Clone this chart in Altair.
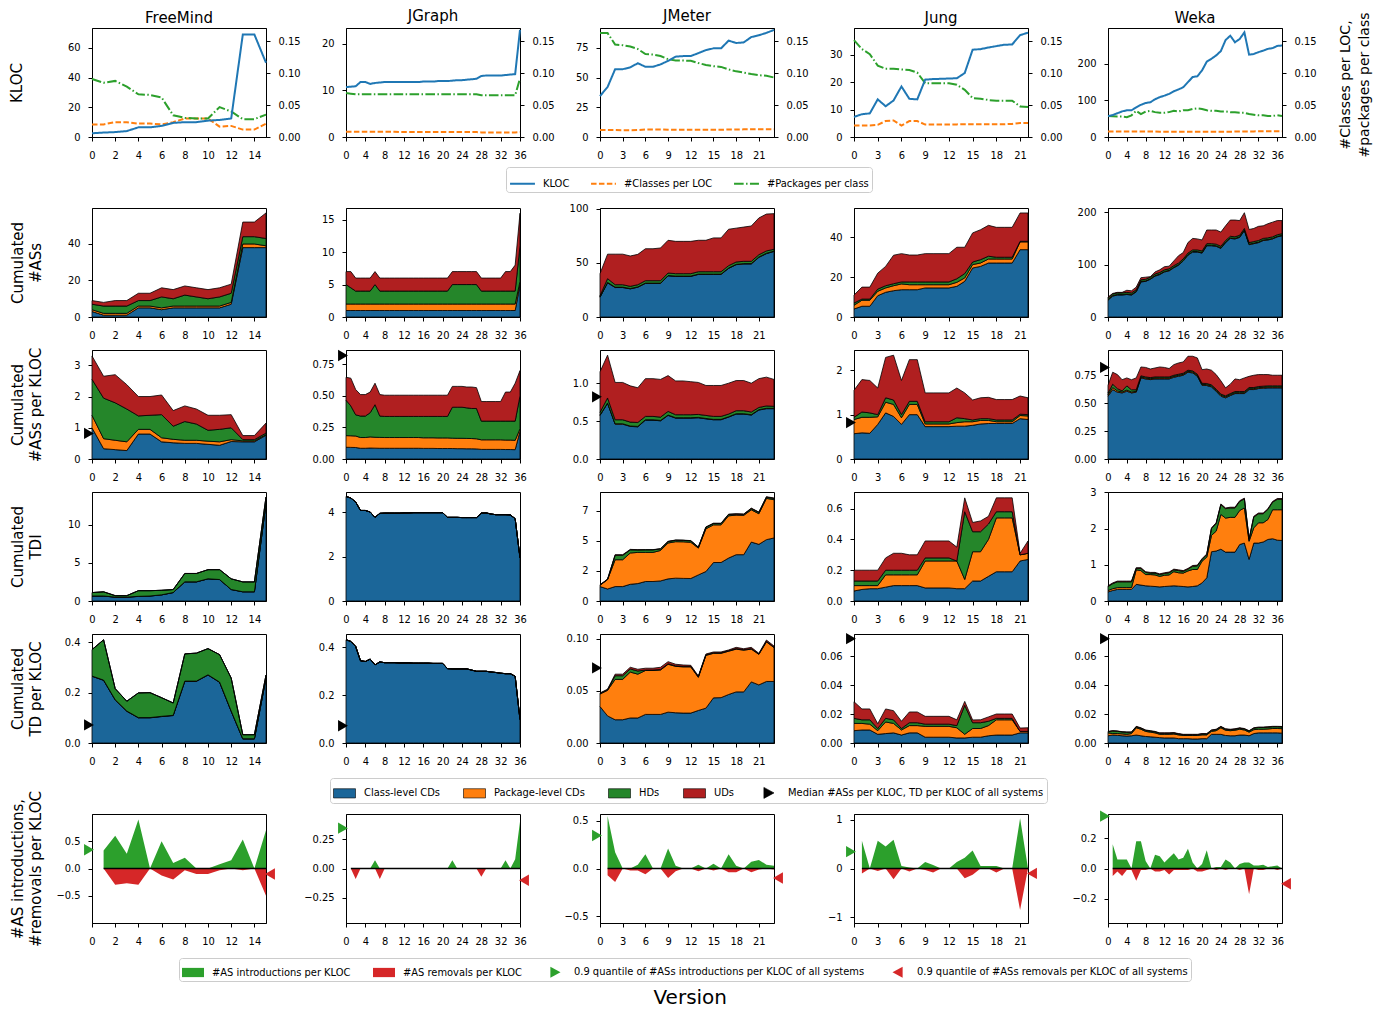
import altair as alt
import pandas as pd

# ---------------------------------------------------------------- data
SYSTEMS = ["FreeMind", "JGraph", "JMeter", "Jung", "Weka"]
N_VERSIONS = [16, 37, 24, 23, 38]
X_STEP = [2, 4, 3, 3, 4]

# row 1 : KLOC, #classes per LOC, #packages per class
FM_KLOC = [2.5, 3, 3.3, 4, 6.5, 6.5, 7.5, 9.5, 10, 10, 11, 11.5, 12.5, 69, 69, 50]
FM_CPL = [0.0198, 0.0198, 0.0233, 0.0233, 0.021, 0.021, 0.0198, 0.0233, 0.029, 0.029, 0.029, 0.0163, 0.0174, 0.0116, 0.0116, 0.021]
FM_PPC = [0.091, 0.085, 0.088, 0.079, 0.067, 0.066, 0.062, 0.034, 0.030, 0.029, 0.029, 0.047, 0.040, 0.028, 0.028, 0.035]

JG_KLOC = [10.7, 10.8, 10.9, 11.8, 11.8, 11.4, 11.6, 11.7, 11.8, 11.8, 11.8, 11.8, 11.8, 11.8, 11.8, 11.8, 11.9, 11.9, 11.9, 12.0,
           12.0, 12.0, 12.1, 12.2, 12.2, 12.3, 12.4, 12.5, 13.1, 13.2, 13.2, 13.2, 13.2, 13.3, 13.4, 13.5, 23.0]
JG_CPL = [0.0082, 0.0082, 0.0082, 0.0082, 0.0082, 0.0082, 0.0082, 0.0082, 0.0082, 0.0082, 0.0082, 0.0078, 0.0078, 0.0078, 0.0078,
          0.0078, 0.0078, 0.0078, 0.0078, 0.0078, 0.0078, 0.0078, 0.0078, 0.0078, 0.0078, 0.0078, 0.0078, 0.0078, 0.0072, 0.0072,
          0.0072, 0.0072, 0.0072, 0.0072, 0.0072, 0.0072, 0.0078]
JG_PPC = [0.069, 0.068, 0.067, 0.067, 0.067, 0.067, 0.067, 0.067, 0.067, 0.067, 0.067, 0.067, 0.067, 0.067, 0.067, 0.067, 0.067,
          0.067, 0.067, 0.067, 0.067, 0.067, 0.067, 0.067, 0.067, 0.067, 0.067, 0.067, 0.0655, 0.0655, 0.0655, 0.0655, 0.0655,
          0.0655, 0.0655, 0.0655, 0.092]

JM_KLOC = [34.4, 42, 57, 57, 58.5, 62, 59, 59, 61, 64, 67.5, 68, 68, 70.5, 73, 74.5, 74.5, 81, 79, 79.5, 84, 85.5, 87.5, 90]
JM_CPL = [0.0109, 0.0109, 0.0109, 0.0107, 0.0107, 0.0109, 0.0118, 0.0118, 0.0118, 0.0114, 0.0112, 0.0112, 0.0112, 0.0112,
          0.0112, 0.0113, 0.0113, 0.0118, 0.0118, 0.012, 0.012, 0.012, 0.012, 0.012]
JM_PPC = [0.163, 0.163, 0.145, 0.144, 0.142, 0.138, 0.130, 0.1295, 0.127, 0.122, 0.120, 0.120, 0.1195, 0.116, 0.113, 0.111,
          0.110, 0.106, 0.103, 0.101, 0.0987, 0.097, 0.096, 0.0933]

JU_KLOC = [7.3, 8.3, 8.6, 13.7, 11.2, 13.3, 18.4, 13.9, 13.7, 20.9, 21.1, 21.2, 21.3, 21.4, 23.3, 31.8, 32, 32.6, 33.1, 33.6,
           33.7, 37.1, 38]
JU_CPL = [0.018, 0.018, 0.018, 0.019, 0.025, 0.026, 0.018, 0.025, 0.025, 0.0195, 0.0195, 0.0195, 0.0195, 0.0198, 0.02, 0.02,
          0.02, 0.02, 0.02, 0.02, 0.0205, 0.022, 0.022]
JU_PPC = [0.152, 0.138, 0.130, 0.112, 0.107, 0.107, 0.106, 0.105, 0.101, 0.0844, 0.0844, 0.0844, 0.0844, 0.082, 0.074, 0.061,
          0.060, 0.058, 0.057, 0.057, 0.057, 0.048, 0.047]

WK_KLOC = [57, 60, 65, 70, 73, 73, 81, 88, 93, 95, 103, 109, 113, 118, 125, 130, 136, 150, 164, 166, 182, 206, 214, 223, 235,
           265, 277, 259, 268, 286, 225, 227, 232, 236, 241, 243, 249, 250]
WK_CPL = [0.0088, 0.0088, 0.0088, 0.0088, 0.0088, 0.0088, 0.0088, 0.0088, 0.0088, 0.0088, 0.0088, 0.0083, 0.0083, 0.0083,
          0.0083, 0.0083, 0.0083, 0.0083, 0.0083, 0.0083, 0.0083, 0.0083, 0.0083, 0.0083, 0.0083, 0.0083, 0.0083, 0.0085,
          0.0086, 0.0087, 0.0088, 0.0088, 0.0089, 0.009, 0.009, 0.0091, 0.0092, 0.0092]
WK_PPC = [0.0328, 0.0325, 0.032, 0.032, 0.031, 0.034, 0.041, 0.036, 0.040, 0.041, 0.039, 0.038, 0.038, 0.039, 0.041, 0.040,
          0.042, 0.042, 0.044, 0.045, 0.044, 0.042, 0.041, 0.041, 0.040, 0.040, 0.039, 0.039, 0.038, 0.038, 0.036, 0.035,
          0.034, 0.034, 0.033, 0.033, 0.034, 0.033]

# rows 2-5 : stacked levels (top of class-level CDs, + package-level CDs, + HDs, + UDs)
FM_AS_L1 = [3, 1, 1, 1, 5, 5, 4, 5, 5, 5, 5, 5, 7, 38, 38, 38]
FM_AS_L2 = [4, 2, 2, 2, 6, 6, 5, 6, 6, 6, 6, 6, 8, 40, 40, 39]
FM_AS_L3 = [7, 6, 6, 6, 9, 9, 11, 10, 12, 11, 10, 11, 13, 44, 44, 43]
FM_AS_L4 = [9, 8, 9, 9, 13, 13, 16, 15, 17, 16, 15, 16, 18, 52, 52, 57]

FM_ASK_L1 = [1.0, 0.33, 0.30, 0.27, 0.80, 0.80, 0.55, 0.52, 0.50, 0.50, 0.47, 0.44, 0.56, 0.55, 0.55, 0.76]
FM_ASK_L2 = [1.4, 0.65, 0.60, 0.55, 0.95, 0.95, 0.68, 0.63, 0.60, 0.60, 0.57, 0.55, 0.62, 0.58, 0.58, 0.78]
FM_ASK_L3 = [2.55, 1.95, 1.8, 1.6, 1.38, 1.4, 1.42, 1.05, 1.2, 1.12, 0.92, 0.95, 1.0, 0.62, 0.62, 0.83]
FM_ASK_L4 = [3.3, 2.65, 2.7, 2.38, 2.0, 2.0, 2.05, 1.55, 1.7, 1.6, 1.4, 1.4, 1.42, 0.75, 0.75, 1.15]

FM_TD_L1 = [0.65, 0.65, 0.5, 0.5, 0.6, 0.65, 0.8, 1.1, 2.5, 2.5, 2.9, 2.8, 1.5, 1.2, 1.2, 12.8]
FM_TD_L2 = [0.66, 0.66, 0.51, 0.51, 0.61, 0.66, 0.81, 1.11, 2.51, 2.51, 2.91, 2.81, 1.51, 1.21, 1.21, 12.81]
FM_TD_L3 = [1.1, 1.2, 0.7, 0.7, 1.35, 1.35, 1.4, 1.5, 3.6, 3.6, 4.1, 4.1, 2.9, 2.5, 2.5, 13.6]
FM_TD_L4 = [1.1, 1.2, 0.7, 0.7, 1.35, 1.35, 1.4, 1.5, 3.6, 3.6, 4.1, 4.1, 2.9, 2.5, 2.5, 13.6]

FM_TDK_L1 = [0.265, 0.249, 0.171, 0.126, 0.1, 0.1, 0.105, 0.109, 0.245, 0.245, 0.27, 0.241, 0.126, 0.016, 0.016, 0.258]
FM_TDK_L2 = [0.266, 0.25, 0.172, 0.127, 0.101, 0.101, 0.106, 0.11, 0.246, 0.246, 0.271, 0.242, 0.127, 0.017, 0.017, 0.259]
FM_TDK_L3 = [0.371, 0.41, 0.216, 0.166, 0.199, 0.2, 0.18, 0.159, 0.354, 0.357, 0.375, 0.351, 0.258, 0.033, 0.033, 0.27]
FM_TDK_L4 = [0.371, 0.41, 0.216, 0.166, 0.199, 0.2, 0.18, 0.159, 0.354, 0.357, 0.375, 0.351, 0.258, 0.033, 0.033, 0.27]

JG_AS_L1 = [1, 1, 1, 1, 1, 1, 1, 1, 1, 1, 1, 1, 1, 1, 1, 1, 1, 1, 1, 1, 1, 1, 1, 1, 1, 1, 1, 1, 1, 1, 1, 1, 1, 1, 1, 1, 5]
JG_AS_L2 = [2, 2, 2, 2, 2, 2, 2, 2, 2, 2, 2, 2, 2, 2, 2, 2, 2, 2, 2, 2, 2, 2, 2, 2, 2, 2, 2, 2, 2, 2, 2, 2, 2, 2, 2, 2, 5.5]
JG_AS_L3 = [5, 4.5, 4, 4, 4, 4, 5, 4, 4, 4, 4, 4, 4, 4, 4, 4, 4, 4, 4, 4, 4, 4, 5, 5, 5, 5, 5, 5, 4, 4, 4, 4, 4, 4, 4, 4, 11]
JG_AS_L4 = [7, 7, 6, 6, 6, 6, 7, 6, 6, 6, 6, 6, 6, 6, 6, 6, 6, 6, 6, 6, 6, 6, 7, 7, 7, 7, 7, 7, 6, 6, 6, 6, 6, 7, 7, 8, 16]

JG_ASK_L1 = [0.093, 0.092, 0.091, 0.085, 0.085, 0.087, 0.086, 0.085, 0.085, 0.085, 0.085, 0.085, 0.085, 0.085, 0.085, 0.085,
             0.084, 0.084, 0.084, 0.083, 0.083, 0.083, 0.083, 0.082, 0.082, 0.081, 0.081, 0.080, 0.076, 0.076, 0.076, 0.076,
             0.076, 0.075, 0.075, 0.074, 0.22]
JG_ASK_L2 = [0.185, 0.184, 0.182, 0.170, 0.170, 0.175, 0.172, 0.171, 0.170, 0.170, 0.170, 0.170, 0.170, 0.170, 0.170, 0.170,
             0.168, 0.168, 0.168, 0.167, 0.167, 0.167, 0.165, 0.164, 0.164, 0.163, 0.162, 0.160, 0.152, 0.152, 0.152, 0.152,
             0.152, 0.150, 0.150, 0.148, 0.240]
JG_ASK_L3 = [0.466, 0.420, 0.350, 0.340, 0.340, 0.366, 0.430, 0.340, 0.337, 0.337, 0.337, 0.337, 0.337, 0.337, 0.337, 0.337,
             0.337, 0.337, 0.337, 0.337, 0.337, 0.337, 0.410, 0.410, 0.410, 0.405, 0.400, 0.400, 0.300, 0.300, 0.300, 0.300,
             0.300, 0.300, 0.300, 0.300, 0.500]
JG_ASK_L4 = [0.647, 0.640, 0.550, 0.510, 0.510, 0.530, 0.600, 0.510, 0.505, 0.505, 0.505, 0.505, 0.505, 0.505, 0.505, 0.505,
             0.505, 0.505, 0.505, 0.505, 0.505, 0.505, 0.575, 0.575, 0.575, 0.570, 0.570, 0.565, 0.455, 0.455, 0.455, 0.455,
             0.455, 0.530, 0.530, 0.600, 0.700]

JG_TD_L1 = [4.70, 4.63, 4.45, 4.07, 4.07, 4.00, 3.76, 3.94, 3.95, 3.95, 3.95, 3.95, 3.96, 3.96, 3.97, 3.97, 3.97, 3.97, 3.97,
            3.97, 3.97, 3.76, 3.76, 3.76, 3.75, 3.75, 3.75, 3.75, 3.95, 3.96, 3.91, 3.88, 3.88, 3.88, 3.87, 3.70, 1.94]
JG_TDK_L1 = [0.432, 0.425, 0.404, 0.344, 0.341, 0.351, 0.327, 0.339, 0.336, 0.336, 0.336, 0.335, 0.335, 0.335, 0.334, 0.334,
             0.334, 0.334, 0.333, 0.333, 0.333, 0.311, 0.310, 0.310, 0.310, 0.310, 0.305, 0.300, 0.300, 0.300, 0.297, 0.295,
             0.292, 0.290, 0.290, 0.279, 0.098]

JM_AS_L1 = [18.3, 31.5, 27.2, 27.2, 26, 27.5, 31, 31, 31, 38, 37.5, 37.5, 37.5, 39.3, 39.3, 39.3, 39.3, 44.9, 48.3, 49, 49,
            55, 58.5, 60.5]
JM_AS_L2 = [18.6, 32, 27.6, 27.6, 26.3, 27.8, 31.3, 31.3, 31.3, 38.3, 37.8, 37.8, 37.8, 39.6, 39.6, 39.6, 39.6, 45.2, 48.6,
            49.3, 49.3, 55.4, 58.9, 60.8]
JM_AS_L3 = [19.7, 35.4, 29.8, 29.8, 28.3, 29.8, 33.5, 33.5, 33.5, 40.6, 40, 40, 40, 41.8, 41.8, 41.8, 41.8, 47.4, 50.8, 51.4,
            51.4, 57.5, 61, 62.5]
JM_AS_L4 = [40, 58, 58, 58, 56.3, 57.8, 63, 63, 63.7, 70.8, 69.8, 69.8, 69.8, 70.8, 70.8, 73, 73, 81, 82, 83, 84, 91.4, 95,
            95.4]

JM_ASK_L1 = [0.575, 0.735, 0.46, 0.46, 0.43, 0.425, 0.513, 0.513, 0.504, 0.575, 0.54, 0.54, 0.54, 0.544, 0.53, 0.518, 0.518,
             0.553, 0.593, 0.593, 0.58, 0.646, 0.664, 0.664]
JM_ASK_L2 = [0.58, 0.74, 0.465, 0.465, 0.435, 0.43, 0.518, 0.518, 0.509, 0.58, 0.545, 0.545, 0.545, 0.549, 0.535, 0.523,
             0.523, 0.558, 0.598, 0.598, 0.585, 0.651, 0.669, 0.669]
JM_ASK_L3 = [0.615, 0.805, 0.518, 0.518, 0.487, 0.482, 0.562, 0.562, 0.553, 0.628, 0.584, 0.584, 0.584, 0.588, 0.575, 0.562,
             0.562, 0.593, 0.637, 0.637, 0.62, 0.68, 0.70, 0.695]
JM_ASK_L4 = [1.15, 1.37, 1.01, 1.01, 0.965, 0.94, 1.06, 1.06, 1.05, 1.10, 1.03, 1.03, 1.02, 1.01, 0.97, 0.97, 0.97, 1.0,
             1.035, 1.035, 1.0, 1.06, 1.08, 1.05]

JM_TD_L1 = [1.2, 1.0, 1.2, 1.2, 1.39, 1.45, 1.62, 1.62, 1.67, 1.84, 1.9, 1.88, 1.87, 2.17, 2.45, 3.2, 3.2, 3.57, 3.85, 3.85,
            4.9, 4.71, 5.1, 5.24]
JM_TD_L2 = [1.31, 1.78, 3.43, 3.43, 3.99, 4.04, 4.04, 4.04, 4.2, 4.82, 4.93, 4.92, 4.88, 4.4, 6.0, 6.33, 6.33, 7.08, 7.14,
            7.12, 7.58, 7.25, 8.53, 8.42]
JM_TD_L3 = [1.33, 1.8, 3.8, 3.8, 4.25, 4.24, 4.25, 4.25, 4.33, 4.94, 5.05, 5.04, 5.0, 4.47, 6.13, 6.44, 6.44, 7.19, 7.22,
            7.2, 7.68, 7.36, 8.63, 8.52]
JM_TD_L4 = [1.35, 1.82, 3.85, 3.85, 4.29, 4.27, 4.27, 4.27, 4.35, 4.96, 5.07, 5.06, 5.02, 4.49, 6.16, 6.47, 6.47, 7.22, 7.25,
            7.23, 7.72, 7.39, 8.67, 8.56]

JM_TDK_L1 = [0.035, 0.026, 0.0223, 0.0223, 0.024, 0.024, 0.0274, 0.0274, 0.0274, 0.0296, 0.029, 0.0287, 0.0287, 0.0312,
             0.0334, 0.0433, 0.0435, 0.0465, 0.049, 0.049, 0.0586, 0.0557, 0.059, 0.059]
JM_TDK_L2 = [0.047, 0.0505, 0.061, 0.061, 0.068, 0.066, 0.0695, 0.0695, 0.070, 0.0755, 0.0735, 0.073, 0.073, 0.063, 0.084,
             0.086, 0.086, 0.088, 0.090, 0.089, 0.090, 0.085, 0.097, 0.0915]
JM_TDK_L3 = [0.0475, 0.051, 0.0645, 0.0645, 0.071, 0.069, 0.070, 0.070, 0.0705, 0.076, 0.074, 0.0735, 0.0735, 0.0635, 0.0845,
             0.0865, 0.0865, 0.0885, 0.0905, 0.0895, 0.0905, 0.0855, 0.0975, 0.092]
JM_TDK_L4 = [0.048, 0.0516, 0.066, 0.066, 0.0726, 0.0707, 0.0717, 0.0717, 0.0726, 0.078, 0.0755, 0.0748, 0.0745, 0.0643,
             0.0853, 0.0873, 0.0873, 0.0892, 0.0917, 0.0904, 0.0917, 0.086, 0.0987, 0.093]

JU_AS_L1 = [4, 5.4, 5.4, 10.7, 12.4, 13.2, 13.7, 13.7, 13.7, 14.6, 14.6, 14.6, 14.6, 15.4, 17.9, 24.6, 25.4, 27.1, 27.1, 27.1,
            27.1, 33.8, 33.8]
JU_AS_L2 = [5.9, 8.4, 8.4, 12.9, 14.6, 15.7, 16.6, 16.2, 16.2, 16.2, 16.2, 16.2, 16.2, 17.4, 19.6, 26.3, 27.1, 29.1, 29.1,
            29.1, 29.1, 37.7, 37.7]
JU_AS_L3 = [7, 9, 9, 14, 15.7, 16.7, 17.6, 17.6, 17.6, 17.6, 17.6, 17.6, 17.6, 19.2, 21.8, 27.6, 28.8, 30.5, 30, 30, 30, 38, 38]
JU_AS_L4 = [11, 15, 15, 22, 25.4, 31, 31.8, 31.1, 31.1, 31.8, 31.8, 31.8, 31.8, 35, 35, 42.2, 43.8, 46, 45, 45, 45, 52.2, 52.2]

JU_ASK_L1 = [0.57, 0.59, 0.58, 0.78, 1.04, 0.96, 0.78, 1.0, 1.0, 0.73, 0.73, 0.73, 0.73, 0.74, 0.74, 0.76, 0.79, 0.8, 0.8,
             0.8, 0.8, 0.91, 0.89]
JU_ASK_L2 = [0.89, 0.94, 0.94, 0.95, 1.28, 1.23, 0.93, 1.23, 1.23, 0.79, 0.79, 0.79, 0.79, 0.82, 0.84, 0.84, 0.87, 0.87, 0.84,
             0.84, 0.84, 0.98, 0.97]
JU_ASK_L3 = [0.94, 1.06, 1.04, 1.0, 1.38, 1.33, 1.0, 1.30, 1.30, 0.84, 0.84, 0.84, 0.84, 0.93, 0.91, 0.88, 0.91, 0.91, 0.88,
             0.88, 0.88, 1.01, 1.0]
JU_ASK_L4 = [1.55, 1.79, 1.77, 1.6, 2.29, 2.34, 1.77, 2.24, 2.24, 1.49, 1.49, 1.49, 1.49, 1.6, 1.49, 1.33, 1.38, 1.39, 1.34,
             1.34, 1.34, 1.42, 1.38]

JU_TD_L1 = [0.065, 0.075, 0.08, 0.08, 0.09, 0.10, 0.10, 0.10, 0.10, 0.085, 0.085, 0.085, 0.085, 0.08, 0.08, 0.13, 0.13, 0.16,
            0.19, 0.19, 0.19, 0.26, 0.27]
JU_TD_L2 = [0.10, 0.10, 0.10, 0.10, 0.17, 0.17, 0.17, 0.17, 0.17, 0.26, 0.26, 0.26, 0.26, 0.26, 0.14, 0.32, 0.32, 0.40, 0.54,
            0.54, 0.54, 0.30, 0.31]
JU_TD_L3 = [0.13, 0.13, 0.13, 0.13, 0.20, 0.20, 0.20, 0.20, 0.20, 0.28, 0.28, 0.28, 0.28, 0.26, 0.58, 0.45, 0.45, 0.50, 0.58,
            0.58, 0.58, 0.30, 0.31]
JU_TD_L4 = [0.20, 0.20, 0.20, 0.20, 0.28, 0.31, 0.31, 0.30, 0.30, 0.39, 0.39, 0.39, 0.39, 0.35, 0.67, 0.51, 0.52, 0.55, 0.67,
            0.67, 0.67, 0.31, 0.39]

JU_TDK_L1 = [0.0085, 0.009, 0.009, 0.006, 0.0065, 0.007, 0.0055, 0.007, 0.007, 0.004, 0.004, 0.004, 0.004, 0.0035, 0.0035,
             0.004, 0.004, 0.005, 0.0055, 0.0055, 0.0055, 0.007, 0.007]
JU_TDK_L2 = [0.0135, 0.0135, 0.013, 0.0085, 0.0145, 0.0135, 0.009, 0.012, 0.012, 0.0115, 0.0115, 0.0115, 0.0115, 0.0105,
             0.006, 0.010, 0.010, 0.012, 0.016, 0.016, 0.016, 0.008, 0.008]
JU_TDK_L3 = [0.017, 0.016, 0.016, 0.010, 0.017, 0.016, 0.010, 0.014, 0.014, 0.013, 0.013, 0.013, 0.013, 0.012, 0.026, 0.014,
             0.014, 0.015, 0.017, 0.017, 0.017, 0.008, 0.008]
JU_TDK_L4 = [0.0285, 0.0235, 0.0235, 0.0133, 0.0235, 0.0223, 0.015, 0.0214, 0.0214, 0.0184, 0.0184, 0.0184, 0.0184, 0.016,
             0.0287, 0.0159, 0.016, 0.018, 0.02, 0.02, 0.02, 0.0103, 0.0105]

WK_AS_L1 = [32, 40, 42, 42, 43, 42, 48, 67, 68, 72, 78, 81, 86, 88, 94, 99, 107, 118, 124, 124, 122, 136, 136, 135, 131, 142,
            150, 149, 152, 165, 138, 140, 142, 146, 147, 149, 153, 155]
WK_AS_L2 = [33, 41, 43, 43, 44, 43, 49, 68, 69, 73, 79, 82, 87, 89, 95, 100, 108, 119, 125, 125, 123, 137, 137, 136, 132, 143,
            151, 150, 153, 166, 139, 141, 143, 147, 148, 150, 154, 156]
WK_AS_L3 = [36, 44, 46, 46, 47, 46, 52, 71, 72, 76, 82, 85, 90, 92, 98, 103, 111, 122, 128, 128, 126, 140, 140, 139, 135, 146,
            154, 153, 156, 169, 142, 144, 146, 150, 151, 153, 157, 159]
WK_AS_L4 = [38, 45, 47, 47, 51, 50, 57, 75, 76, 77, 86, 90, 96, 97, 107, 117, 123, 142, 150, 149, 147, 166, 166, 166, 162, 174,
            185, 185, 184, 199, 167, 169, 173, 174, 178, 181, 184, 184]

WK_ASK_L1 = [0.5625, 0.622, 0.598, 0.592, 0.607, 0.592, 0.598, 0.726, 0.717, 0.711, 0.717, 0.717, 0.717, 0.717, 0.732, 0.741,
             0.75, 0.777, 0.771, 0.741, 0.66, 0.658, 0.646, 0.607, 0.5625, 0.548, 0.568, 0.586, 0.586, 0.586, 0.622, 0.622,
             0.631, 0.634, 0.637, 0.637, 0.637, 0.637]
WK_ASK_L2 = [0.575, 0.64, 0.61, 0.60, 0.617, 0.60, 0.606, 0.734, 0.725, 0.719, 0.725, 0.725, 0.725, 0.725, 0.74, 0.749,
             0.758, 0.785, 0.779, 0.749, 0.668, 0.666, 0.654, 0.615, 0.571, 0.556, 0.576, 0.594, 0.594, 0.594, 0.63, 0.63,
             0.639, 0.642, 0.645, 0.645, 0.645, 0.645]
WK_ASK_L3 = [0.59, 0.67, 0.63, 0.61, 0.655, 0.62, 0.62, 0.745, 0.735, 0.729, 0.735, 0.735, 0.735, 0.735, 0.75, 0.759, 0.768,
             0.795, 0.789, 0.759, 0.678, 0.676, 0.664, 0.625, 0.581, 0.566, 0.586, 0.604, 0.604, 0.604, 0.64, 0.64, 0.649,
             0.652, 0.655, 0.655, 0.655, 0.655]
WK_ASK_L4 = [0.66, 0.777, 0.756, 0.71, 0.726, 0.71, 0.726, 0.824, 0.82, 0.806, 0.815, 0.824, 0.82, 0.81, 0.845, 0.86, 0.869,
             0.92, 0.92, 0.905, 0.80, 0.806, 0.795, 0.756, 0.70, 0.637, 0.67, 0.717, 0.71, 0.726, 0.74, 0.75, 0.756, 0.756,
             0.756, 0.75, 0.75, 0.75]

WK_TD_L1 = [0.25, 0.29, 0.32, 0.32, 0.32, 0.32, 0.46, 0.44, 0.42, 0.41, 0.40, 0.39, 0.40, 0.41, 0.42, 0.41, 0.40, 0.39, 0.40,
            0.42, 0.5, 0.64, 1.36, 1.38, 1.43, 1.35, 1.35, 1.35, 1.56, 1.6, 1.15, 1.6, 1.6, 1.63, 1.7, 1.72, 1.68, 1.67]
WK_TD_L2 = [0.29, 0.34, 0.37, 0.37, 0.37, 0.37, 0.86, 0.84, 0.73, 0.73, 0.72, 0.68, 0.71, 0.72, 0.81, 0.78, 0.77, 0.83, 0.87,
            0.87, 1.1, 1.21, 1.81, 1.93, 2.39, 2.29, 2.31, 2.31, 2.5, 2.57, 1.65, 2.02, 2.16, 2.16, 2.25, 2.52, 2.52, 2.52]
WK_TD_L3 = [0.40, 0.48, 0.53, 0.53, 0.53, 0.53, 0.90, 0.90, 0.79, 0.77, 0.77, 0.73, 0.76, 0.78, 0.86, 0.84, 0.82, 0.88, 0.96,
            0.97, 1.15, 1.28, 2.0, 2.14, 2.66, 2.55, 2.57, 2.57, 2.75, 2.82, 1.70, 2.32, 2.41, 2.41, 2.53, 2.73, 2.81, 2.81]
WK_TD_L4 = [0.42, 0.5, 0.55, 0.55, 0.55, 0.55, 0.92, 0.92, 0.81, 0.79, 0.79, 0.75, 0.78, 0.8, 0.88, 0.86, 0.84, 0.9, 0.98,
            0.99, 1.17, 1.3, 2.02, 2.16, 2.68, 2.57, 2.59, 2.59, 2.77, 2.84, 1.72, 2.34, 2.43, 2.43, 2.55, 2.75, 2.83, 2.83]

WK_TDK_L1 = [0.0050, 0.0055, 0.0053, 0.0050, 0.0048, 0.0050, 0.0055, 0.0050, 0.0045, 0.0043, 0.0040, 0.0037, 0.0035, 0.0035,
             0.0035, 0.0030, 0.0030, 0.0030, 0.0028, 0.0028, 0.0030, 0.0030, 0.0060, 0.0060, 0.0060, 0.0052, 0.0050, 0.0050,
             0.0055, 0.0055, 0.0050, 0.0065, 0.0070, 0.0070, 0.0070, 0.0070, 0.0070, 0.0068]
WK_TDK_L2 = [0.0070, 0.0065, 0.0065, 0.0063, 0.0060, 0.0065, 0.0105, 0.0095, 0.0080, 0.0075, 0.0070, 0.0060, 0.0060, 0.0060,
             0.0062, 0.0056, 0.0052, 0.0052, 0.0052, 0.0052, 0.0056, 0.0056, 0.0080, 0.0085, 0.0105, 0.0088, 0.0085, 0.0088,
             0.0095, 0.0090, 0.0075, 0.0092, 0.0095, 0.0095, 0.0097, 0.0100, 0.0100, 0.0099]
WK_TDK_L3 = [0.0078, 0.0083, 0.0081, 0.0076, 0.0074, 0.0074, 0.0112, 0.0102, 0.0087, 0.0082, 0.0077, 0.0067, 0.0067, 0.0067,
             0.0069, 0.0062, 0.0057, 0.0057, 0.0057, 0.0057, 0.0062, 0.0062, 0.0087, 0.0092, 0.0112, 0.0095, 0.0092, 0.0095,
             0.0102, 0.0097, 0.0082, 0.0102, 0.0107, 0.0107, 0.0109, 0.0112, 0.0112, 0.0111]
WK_TDK_L4 = [0.0080, 0.0085, 0.0083, 0.0078, 0.0076, 0.0076, 0.0115, 0.0105, 0.0090, 0.0085, 0.0080, 0.0070, 0.0070, 0.0070,
             0.0072, 0.0065, 0.0060, 0.0060, 0.0060, 0.0060, 0.0065, 0.0065, 0.0090, 0.0095, 0.0115, 0.0098, 0.0095, 0.0098,
             0.0105, 0.0100, 0.0085, 0.0105, 0.0110, 0.0110, 0.0112, 0.0115, 0.0115, 0.0114]

# row 6 : AS introductions / removals per KLOC (from version 1 on)
FM_INTRO = [0.33, 0.6, 0.27, 0.9, 0.0, 0.5, 0.1, 0.195, 0.0, 0.0, 0.08, 0.15, 0.53, 0.0, 0.7]
FM_REMOV = [0.0, -0.3, -0.27, -0.3, 0.0, -0.13, -0.2, -0.03, -0.1, -0.1, -0.03, 0.0, -0.03, 0.0, -0.5]
JG_INTRO = [0, 0, 0, 0, 0, 0.07, 0, 0, 0, 0, 0, 0, 0, 0, 0, 0, 0, 0, 0, 0, 0, 0.07, 0, 0, 0, 0, 0, 0, 0, 0, 0, 0, 0.07, 0,
            0.08, 0.40]
JG_REMOV = [0, -0.09, 0, 0, 0, 0, -0.09, 0, 0, 0, 0, 0, 0, 0, 0, 0, 0, 0, 0, 0, 0, 0, 0, 0, 0, 0, 0, -0.07, 0, 0, 0, 0, 0, 0,
            0, 0]
JM_INTRO = [0.55, 0.17, 0.0, 0.0, 0.04, 0.15, 0.0, 0.0, 0.21, 0.03, 0.0, 0.0, 0.04, 0.0, 0.05, 0.0, 0.15, 0.03, 0.0, 0.07,
            0.09, 0.04, 0.03]
JM_REMOV = [-0.07, -0.14, 0.0, -0.02, -0.02, -0.06, 0.0, 0.0, -0.1, -0.03, 0.0, 0.0, -0.03, 0.0, -0.02, 0.0, -0.04, -0.04,
            0.0, -0.04, -0.01, 0.0, -0.01]
JU_INTRO = [0.57, 0.0, 0.57, 0.45, 0.59, 0.05, 0.02, 0.0, 0.135, 0.07, 0.0, 0.0, 0.135, 0.22, 0.37, 0.05, 0.05, 0.05, 0.0,
            0.0, 1.03, 0.0]
JU_REMOV = [-0.1, 0.0, -0.05, 0.0, -0.22, 0.0, -0.06, 0.0, -0.03, -0.08, 0.0, 0.0, 0.0, -0.2, -0.13, 0.0, 0.0, -0.08, 0.0,
            0.0, -0.85, 0.0]
WK_INTRO = [0.16, 0.06, 0.06, 0.06, 0.0, 0.18, 0.18, 0.05, 0.0, 0.09, 0.08, 0.04, 0.07, 0.1, 0.06, 0.07, 0.13, 0.04, 0.0,
            0.03, 0.12, 0.0, 0.01, 0.01, 0.06, 0.04, 0.0, 0.03, 0.04, 0.04, 0.02, 0.02, 0.025, 0.01, 0.015, 0.02, 0.0]
WK_REMOV = [-0.05, -0.02, -0.05, -0.01, -0.01, -0.08, -0.01, -0.01, 0.0, -0.02, -0.02, -0.01, -0.04, -0.01, -0.01, -0.01,
            -0.01, 0.0, -0.02, -0.02, -0.01, 0.0, -0.01, 0.0, -0.01, 0.0, 0.0, -0.01, 0.0, -0.17, 0.0, -0.01, -0.01, 0.0, 0.0,
            -0.01, 0.0]

# reference markers (all systems)
MEDIAN_AS_PER_KLOC = 0.82
MEDIAN_TD_PER_KLOC = 0.072
Q90_INTRO = 0.345
Q90_REMOV = -0.10

# ---------------------------------------------------------------- style
W, H = 174, 109
COL_GAP, ROW_GAP = 80, 33
BLUE, ORANGE, GREEN, RED = "#1f77b4", "#ff7f0e", "#2ca02c", "#d62728"
H_BLUE, H_GREEN, H_RED = "#1b6699", "#25862a", "#b01f20"
LABEL_FONT = "DejaVu Sans Condensed, Liberation Sans Narrow, DejaVu Sans"
TITLE_FONT = "DejaVu Sans"
ROW_TITLE_SIZE = 15

LINE_SERIES = ["KLOC", "#Classes per LOC", "#Packages per class"]
STACK_SERIES = ["Class-level CDs", "Package-level CDs", "HDs", "UDs",
                "Median #ASs per KLOC, TD per KLOC of all systems"]
STACK_COLORS = [H_BLUE, ORANGE, H_GREEN, H_RED, "black"]
R6_SERIES = ["#AS introductions per KLOC", "#AS removals per KLOC",
             "0.9 quantile of #ASs introductions per KLOC of all systems",
             "0.9 quantile of #ASs removals per KLOC of all systems"]
R6_COLORS = [GREEN, RED, GREEN, RED]
RIGHT_TITLE = ["#Classes per LOC,", "#packages per class"]

RECT = "M-1,-0.42H1V0.42H-1Z"
TRI_R = "M-0.42,-0.5L0.5,0L-0.42,0.5Z"
TRI_L = "M0.42,-0.5L-0.5,0L0.42,0.5Z"


def legend_box(x, y, **kw):
    base = dict(title=None, orient="none", legendX=x, legendY=y, direction="horizontal",
                labelFont=LABEL_FONT, labelFontSize=11, labelColor="black", padding=3,
                strokeColor="#cccccc", fillColor="white", cornerRadius=3, labelLimit=600)
    base.update(kw)
    return alt.Legend(**base)


LEG1 = legend_box(-94, 139, symbolType="stroke", symbolSize=620, symbolStrokeWidth=2,
                  columnPadding=17, labelOffset=7)
LEG2 = legend_box(-270, 144, symbolSize=484, symbolStrokeColor="black", symbolStrokeWidth=0.6,
                  columnPadding=22, labelOffset=8,
                  symbolType=alt.ExprRef(
                      "datum.value == '%s' ? '%s' : '%s'" % (STACK_SERIES[4], TRI_R, RECT)))
LEG3 = legend_box(-421, 144, symbolSize=484, symbolStrokeWidth=0, columnPadding=22, labelOffset=8,
                  symbolType=alt.ExprRef(
                      "datum.value == '%s' ? '%s' : (datum.value == '%s' ? '%s' : '%s')"
                      % (R6_SERIES[2], TRI_R, R6_SERIES[3], TRI_L, RECT)))


def x_enc(i):
    n, step = N_VERSIONS[i], X_STEP[i]
    return alt.X("v:Q", scale=alt.Scale(domain=[0, n - 1], nice=False, zero=False),
                 axis=alt.Axis(values=list(range(0, n, step)), format="d", title=None))


def y_axis(ticks, fmt, title=None, title_x=-75, orient="left", label_expr=None):
    kw = dict(values=ticks, format=fmt, orient=orient)
    if title is not None:
        kw.update(title=title, titleX=title_x, titleY=H / 2, titleAngle=270, titleAlign="center",
                  titleBaseline="middle", titleLineHeight=18.5, titleFontSize=ROW_TITLE_SIZE, titleFont=TITLE_FONT,
                  titleFontWeight="normal", titleColor="black")
    else:
        kw["title"] = None
    if label_expr is not None:
        kw["labelExpr"] = label_expr
    return alt.Axis(**kw)


# ---------------------------------------------------------------- row 1
ROW1 = [(FM_KLOC, FM_CPL, FM_PPC, 73.4, [0, 20, 40, 60]),
        (JG_KLOC, JG_CPL, JG_PPC, 23.4, [0, 10, 20]),
        (JM_KLOC, JM_CPL, JM_PPC, 91.6, [0, 25, 50, 75]),
        (JU_KLOC, JU_CPL, JU_PPC, 39.7, [0, 10, 20, 30]),
        (WK_KLOC, WK_CPL, WK_PPC, 298, [0, 100, 200])]


def kloc_panel(i):
    kloc, cpl, ppc, top, ticks = ROW1[i]
    n = N_VERSIONS[i]
    df = pd.DataFrame({"v": list(range(n)) * 3,
                       "series": [LINE_SERIES[0]] * n + [LINE_SERIES[1]] * n + [LINE_SERIES[2]] * n,
                       "val": list(kloc) + list(cpl) + list(ppc)})
    leg = LEG1 if i == 2 else None
    color = alt.Color("series:N", scale=alt.Scale(domain=LINE_SERIES, range=[BLUE, ORANGE, GREEN]), legend=leg)
    dash = alt.StrokeDash("series:N", scale=alt.Scale(domain=LINE_SERIES,
                                                      range=[[1, 0], [5.5, 2.4], [9.6, 2.4, 1.5, 2.4]]),
                          legend=leg)
    base = alt.Chart(df).encode(x=x_enc(i), color=color, strokeDash=dash)
    left = base.transform_filter(alt.datum.series == "KLOC").mark_line(strokeWidth=2).encode(
        y=alt.Y("val:Q", scale=alt.Scale(domain=[0, top], nice=False, zero=False),
                axis=y_axis(ticks, "d", title="KLOC" if i == 0 else None, title_x=-76)))
    right = base.transform_filter(alt.datum.series != "KLOC").mark_line(strokeWidth=2).encode(
        y=alt.Y("val:Q", scale=alt.Scale(domain=[0, 0.171], nice=False, zero=False),
                axis=y_axis([0, 0.05, 0.10, 0.15], ".2f", orient="right")))
    return alt.layer(right, left).resolve_scale(y="independent").properties(
        width=W, height=H,
        title=alt.Title(SYSTEMS[i], fontSize=15, font=TITLE_FONT, fontWeight="normal", color="black",
                        offset=2, anchor="middle"))


# ---------------------------------------------------------------- rows 2-5
def stack_panel(i, levels, top, ticks, fmt, title=None, marker=None, legend=None, label_expr=None):
    n = N_VERSIONS[i]
    rows = []
    lower = [0.0] * n
    for s, lev in zip(STACK_SERIES[:4], levels):
        for v in range(n):
            rows.append({"v": v, "series": s, "y0": lower[v], "y1": lev[v]})
        lower = lev
    df = pd.DataFrame(rows)
    fill = alt.Fill("series:N", scale=alt.Scale(domain=STACK_SERIES, range=STACK_COLORS), legend=legend)
    y = alt.Y("y1:Q", stack=None, scale=alt.Scale(domain=[0, top], nice=False, zero=False),
              axis=y_axis(ticks, fmt, title=title, label_expr=label_expr))
    area = alt.Chart(df).mark_area(stroke="black", strokeWidth=0.8).encode(
        x=x_enc(i), y=y, y2="y0:Q", fill=fill)
    layers = [area]
    if marker is not None:
        mdf = pd.DataFrame({"v": [0], "series": [STACK_SERIES[4]], "y1": [marker]})
        layers.append(alt.Chart(mdf).mark_point(shape="triangle-right", filled=True, size=130, opacity=1,
                                                xOffset=-3).encode(x=x_enc(i), y=y, fill=fill))
    return alt.layer(*layers).properties(width=W, height=H)


ROW2 = [([FM_AS_L1, FM_AS_L2, FM_AS_L3, FM_AS_L4], 59.7, [0, 20, 40], "d"),
        ([JG_AS_L1, JG_AS_L2, JG_AS_L3, JG_AS_L4], 16.8, [0, 5, 10, 15], "d"),
        ([JM_AS_L1, JM_AS_L2, JM_AS_L3, JM_AS_L4], 100.6, [0, 50, 100], "d"),
        ([JU_AS_L1, JU_AS_L2, JU_AS_L3, JU_AS_L4], 54.7, [0, 20, 40], "d"),
        ([WK_AS_L1, WK_AS_L2, WK_AS_L3, WK_AS_L4], 208, [0, 100, 200], "d")]
ROW3 = [([FM_ASK_L1, FM_ASK_L2, FM_ASK_L3, FM_ASK_L4], 3.49, [0, 1, 2, 3], "d"),
        ([JG_ASK_L1, JG_ASK_L2, JG_ASK_L3, JG_ASK_L4], 0.863, [0, 0.25, 0.5, 0.75], ".2f"),
        ([JM_ASK_L1, JM_ASK_L2, JM_ASK_L3, JM_ASK_L4], 1.438, [0, 0.5, 1.0], ".1f"),
        ([JU_ASK_L1, JU_ASK_L2, JU_ASK_L3, JU_ASK_L4], 2.457, [0, 1, 2], "d"),
        ([WK_ASK_L1, WK_ASK_L2, WK_ASK_L3, WK_ASK_L4], 0.976, [0, 0.25, 0.5, 0.75], ".2f")]
ROW4 = [([FM_TD_L1, FM_TD_L2, FM_TD_L3, FM_TD_L4], 14.26, [0, 5, 10], "d"),
        ([JG_TD_L1, JG_TD_L1, JG_TD_L1, JG_TD_L1], 4.9, [0, 2, 4], "d"),
        ([JM_TD_L1, JM_TD_L2, JM_TD_L3, JM_TD_L4], 9.06, [0, 2.5, 5, 7.5], "d"),
        ([JU_TD_L1, JU_TD_L2, JU_TD_L3, JU_TD_L4], 0.708, [0, 0.2, 0.4, 0.6], ".1f"),
        ([WK_TD_L1, WK_TD_L2, WK_TD_L3, WK_TD_L4], 3.01, [0, 1, 2, 3], "d")]
ROW5 = [([FM_TDK_L1, FM_TDK_L2, FM_TDK_L3, FM_TDK_L4], 0.433, [0, 0.2, 0.4], ".1f"),
        ([JG_TDK_L1, JG_TDK_L1, JG_TDK_L1, JG_TDK_L1], 0.456, [0, 0.2, 0.4], ".1f"),
        ([JM_TDK_L1, JM_TDK_L2, JM_TDK_L3, JM_TDK_L4], 0.1045, [0, 0.05, 0.10], ".2f"),
        ([JU_TDK_L1, JU_TDK_L2, JU_TDK_L3, JU_TDK_L4], 0.0752, [0, 0.02, 0.04, 0.06], ".2f"),
        ([WK_TDK_L1, WK_TDK_L2, WK_TDK_L3, WK_TDK_L4], 0.0752, [0, 0.02, 0.04, 0.06], ".2f")]
ROW_TITLES = [["Cumulated", "#ASs"], ["Cumulated", "#ASs per KLOC"], ["Cumulated", "TDI"],
              ["Cumulated", "TD per KLOC"]]

# ---------------------------------------------------------------- row 6
ROW6 = [(FM_INTRO, FM_REMOV, 1.0, [-0.5, 0, 0.5], ".1f"),
        (JG_INTRO, JG_REMOV, 0.466, [-0.25, 0, 0.25], ".2f"),
        (JM_INTRO, JM_REMOV, 0.57, [-0.5, 0, 0.5], ".1f"),
        (JU_INTRO, JU_REMOV, 1.115, [-1, 0, 1], "d"),
        (WK_INTRO, WK_REMOV, 0.359, [-0.2, 0, 0.2], ".1f")]


def change_panel(i):
    intro, remov, lim, ticks, fmt = ROW6[i]
    n = N_VERSIONS[i]
    vs = list(range(1, n))
    df = pd.DataFrame({"v": vs + vs, "series": [R6_SERIES[0]] * (n - 1) + [R6_SERIES[1]] * (n - 1),
                       "val": list(intro) + list(remov), "zero": [0.0] * (2 * (n - 1))})
    leg = LEG3 if i == 2 else None
    fill = alt.Fill("series:N", scale=alt.Scale(domain=R6_SERIES, range=R6_COLORS), legend=leg)
    title = ["#AS introductions,", "#removals per KLOC"] if i == 0 else None
    y = alt.Y("val:Q", stack=None, scale=alt.Scale(domain=[-lim, lim], nice=False, zero=False),
              axis=y_axis(ticks, fmt, title=title))
    area = alt.Chart(df).mark_area(opacity=1).encode(x=x_enc(i), y=y, y2="zero:Q", fill=fill)
    rdf = pd.DataFrame({"v": [1], "v2": [n - 1], "val": [0.0]})
    rule = alt.Chart(rdf).mark_rule(color="black", strokeWidth=1.3).encode(x=x_enc(i), x2="v2:Q", y=y)
    mdf = pd.DataFrame({"v": [0, n - 1], "val": [Q90_INTRO, Q90_REMOV], "series": [R6_SERIES[2], R6_SERIES[3]]})
    base = alt.Chart(mdf).encode(x=x_enc(i), y=y, fill=fill)
    tri_r = base.transform_filter(alt.datum.series == R6_SERIES[2]).mark_point(
        shape="triangle-right", filled=True, size=130, opacity=1, xOffset=-3)
    tri_l = base.transform_filter(alt.datum.series == R6_SERIES[3]).mark_point(
        shape="triangle-left", filled=True, size=130, opacity=1, xOffset=4)
    return alt.layer(area, rule, tri_r, tri_l).properties(width=W, height=H)


def spacer(text=None):
    base = alt.Chart(pd.DataFrame({"s": [0]}))
    if text is None:
        ch = base.mark_point(opacity=0)
    else:
        # right-hand axis title of the first row, hung from the gap cell below it
        ch = base.mark_text(angle=270, fontSize=14, font=TITLE_FONT, lineHeight=18.5,
                            align="center", baseline="middle", color="black").encode(
            x=alt.value(W + 64), y=alt.value(-85), text=alt.value(text))
    return ch.properties(width=W, height=5, view=alt.ViewBackground(stroke="transparent"))


cells = [kloc_panel(i) for i in range(5)]
cells += [spacer() for _ in range(4)] + [spacer(RIGHT_TITLE)]
for r, (cfg, mk) in enumerate([(ROW2, None), (ROW3, MEDIAN_AS_PER_KLOC), (ROW4, None), (ROW5, MEDIAN_TD_PER_KLOC)]):
    for i in range(5):
        levels, top, ticks, fmt = cfg[i]
        cells.append(stack_panel(
            i, levels, top, ticks, fmt,
            title=ROW_TITLES[r] if i == 0 else None,
            marker=mk,
            legend=LEG2 if (r == 3 and i == 2) else None,
            label_expr="floor(datum.value)" if (r == 2 and i == 2) else None))
cells += [spacer() for _ in range(5)]
cells += [change_panel(i) for i in range(5)]

chart = alt.concat(*cells, columns=5, spacing={"row": ROW_GAP, "column": COL_GAP}, bounds="flush").resolve_scale(
    color="independent", strokeDash="independent", fill="independent"
).properties(
    title=alt.Title("Version", orient="bottom", fontSize=20, font=TITLE_FONT, fontWeight="normal",
                    color="black", anchor="middle", offset=6),
    padding={"left": 0, "top": 0, "right": 4, "bottom": 2},
).configure_view(stroke="black", strokeWidth=1).configure_axis(
    grid=False, domainColor="black", domainWidth=1, tickColor="black", tickWidth=1, tickSize=4,
    labelColor="black", labelFont=LABEL_FONT, labelFontSize=11, labelPadding=8, labelFlush=False,
    labelOverlap=False)

chart.save("out.html", embed_options={"renderer": "svg", "actions": False})
